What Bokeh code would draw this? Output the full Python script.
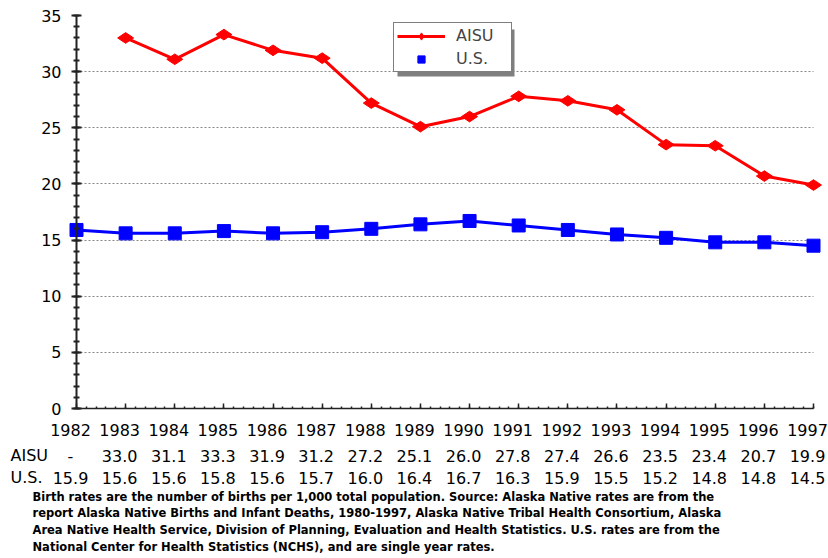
import numpy as np
from bokeh.plotting import figure
from bokeh.models import (Range1d, SingleIntervalTicker, FixedTicker, LabelSet, Label,
                          ColumnDataSource, Legend, LegendItem, BoxAnnotation)
from bokeh.embed import file_html
from bokeh.resources import INLINE
from bokeh.core.properties import value

# ---------------- data ----------------
years = list(range(1982, 1998))
aisu_years = list(range(1983, 1998))
aisu = [33.0, 31.1, 33.3, 31.9, 31.2, 27.2, 25.1, 26.0, 27.8, 27.4, 26.6, 23.5, 23.4, 20.7, 19.9]
us = [15.9, 15.6, 15.6, 15.8, 15.6, 15.7, 16.0, 16.4, 16.7, 16.3, 15.9, 15.5, 15.2, 14.8, 14.8, 14.5]
grid_levels = [5, 10, 15, 20, 25, 30]
row_labels = ["AISU", "U.S."]
footnote = [
    "Birth rates are the number of births per 1,000 total population. Source: Alaska Native rates are from the",
    "report Alaska Native Births and Infant Deaths, 1980-1997, Alaska Native Tribal Health Consortium, Alaska",
    "Area Native Health Service, Division of Planning, Evaluation and Health Statistics. U.S. rates are from the",
    "National Center for Health Statistics (NCHS), and are single year rates.",
]

FONT = "DejaVu Sans"
W, H = 828, 558
# pixel layout of the plotting area inside the canvas
X0_PX, X1_PX = 76, 813      # 1982 and 1997
Y35_PX, Y0_PX = 15, 408     # 35 and 0
px_per_year = (X1_PX - X0_PX) / (years[-1] - years[0])
px_per_unit = (Y0_PX - Y35_PX) / 35.0
x_start = years[0] - X0_PX / px_per_year
x_end = years[-1] + (W - X1_PX) / px_per_year
y_end = 35 + Y35_PX / px_per_unit
y_start = -(H - Y0_PX) / px_per_unit

p = figure(width=W, height=H, x_range=Range1d(x_start, x_end), y_range=Range1d(y_start, y_end),
           output_backend="svg", toolbar_location=None, title=None,
           min_border_left=0, min_border_right=0, min_border_top=0, min_border_bottom=0)
p.outline_line_color = None
p.background_fill_color = "white"
p.border_fill_color = "white"

# x axis (at y = 0)
xa = p.xaxis[0]
xa.fixed_location = 0
xa.bounds = (years[0], years[-1])
xa.ticker = SingleIntervalTicker(interval=1, num_minor_ticks=5)
xa.major_label_text_color = None
xa.axis_line_color = "#222222"
xa.axis_line_width = 1.5
xa.major_tick_in = 5
xa.major_tick_out = 0
xa.minor_tick_in = 2
xa.minor_tick_out = 0
xa.major_tick_line_color = "#222222"
xa.minor_tick_line_color = "#222222"
xa.major_tick_line_width = 1.5
xa.minor_tick_line_width = 1.5

# y axis (at x = 1982)
ya = p.yaxis[0]
ya.fixed_location = years[0]
ya.bounds = (0, 35)
ya.ticker = SingleIntervalTicker(interval=5, num_minor_ticks=5)
ya.axis_line_color = "#222222"
ya.axis_line_width = 2
ya.major_tick_in = 5
ya.major_tick_out = 5
ya.minor_tick_in = 3
ya.minor_tick_out = 3
ya.major_tick_line_color = "#222222"
ya.minor_tick_line_color = "#222222"
ya.major_tick_line_width = 2
ya.minor_tick_line_width = 2
ya.major_label_text_font = FONT
ya.major_label_text_font_size = "16px"
ya.major_label_text_color = "black"
ya.major_label_standoff = 10

p.xgrid.visible = False
grid = p.ygrid[0]
if "cross_bounds" in grid.properties():
    grid.ticker = FixedTicker(ticks=grid_levels)
    grid.cross_bounds = (years[0], years[-1])
    grid.grid_line_color = "#888888"
    grid.grid_line_dash = "2 2"
    grid.grid_line_width = 1
else:
    grid.visible = False
    p.segment(x0=[years[0]] * len(grid_levels), x1=[years[-1]] * len(grid_levels),
              y0=grid_levels, y1=grid_levels, line_color="#888888", line_dash="2 2", line_width=1)

# series
r_line = p.line(aisu_years, aisu, line_color="#FF0000", line_width=3)
r_dia = p.scatter(aisu_years, aisu, marker="diamond", size=16, angle=np.pi / 2,
                  fill_color="#FF0000", line_color="#FF0000")
u_line = p.line(years, us, line_color="#0000FF", line_width=3)
u_sq = p.scatter(years, us, marker="square", size=13, fill_color="#0000FF", line_color="#0000FF")

# legend shadow + legend (screen units from the bottom-left of the canvas)
shadow = BoxAnnotation(left=397, right=514, top=H - 29, bottom=H - 76,
                       left_units="screen", right_units="screen",
                       top_units="screen", bottom_units="screen",
                       fill_color="#7f7f7f", fill_alpha=1, line_color=None)
p.add_layout(shadow)
legend = Legend(items=[LegendItem(label="AISU", renderers=[r_line, r_dia]),
                       LegendItem(label="U.S.", renderers=[u_sq])],
                location=(393, H - 72), margin=0, padding=3, spacing=4,
                glyph_height=18, glyph_width=48, label_standoff=11, label_width=52,
                label_text_font=FONT, label_text_font_size="16px",
                border_line_color="black", border_line_width=1,
                background_fill_color="white", background_fill_alpha=1)
p.add_layout(legend)

# year labels and data table
common = dict(text_align="center", text_baseline="middle", text_font=value(FONT),
              text_font_size="16px", text_color="black", y_units="screen", x_offset=-6)
year_src = ColumnDataSource(dict(x=years, text=[str(y) for y in years]))
p.add_layout(LabelSet(x="x", y=H - 429, text="text", source=year_src, **common))

aisu_text = ["-"] + [f"{v:.1f}" for v in aisu]
us_text = [f"{v:.1f}" for v in us]
aisu_src = ColumnDataSource(dict(x=years, text=aisu_text))
us_src = ColumnDataSource(dict(x=years, text=us_text))
p.add_layout(LabelSet(x="x", y=H - 455, text="text", source=aisu_src, **common))
p.add_layout(LabelSet(x="x", y=H - 477, text="text", source=us_src, **common))

for lab, yy in zip(row_labels, [H - 455, H - 477]):
    p.add_layout(Label(x=10, y=yy, x_units="screen", y_units="screen", text=lab,
                       text_align="left", text_baseline="middle", text_font=FONT,
                       text_font_size="16px", text_color="black"))

for i, line in enumerate(footnote):
    p.add_layout(Label(x=32, y=H - 496 - 16.8 * i, x_units="screen", y_units="screen", text=line,
                       text_align="left", text_baseline="middle", text_font=FONT,
                       text_font_style="bold", text_font_size="11.5px", text_color="black"))

open("out.html", "w").write(file_html(p, INLINE))
